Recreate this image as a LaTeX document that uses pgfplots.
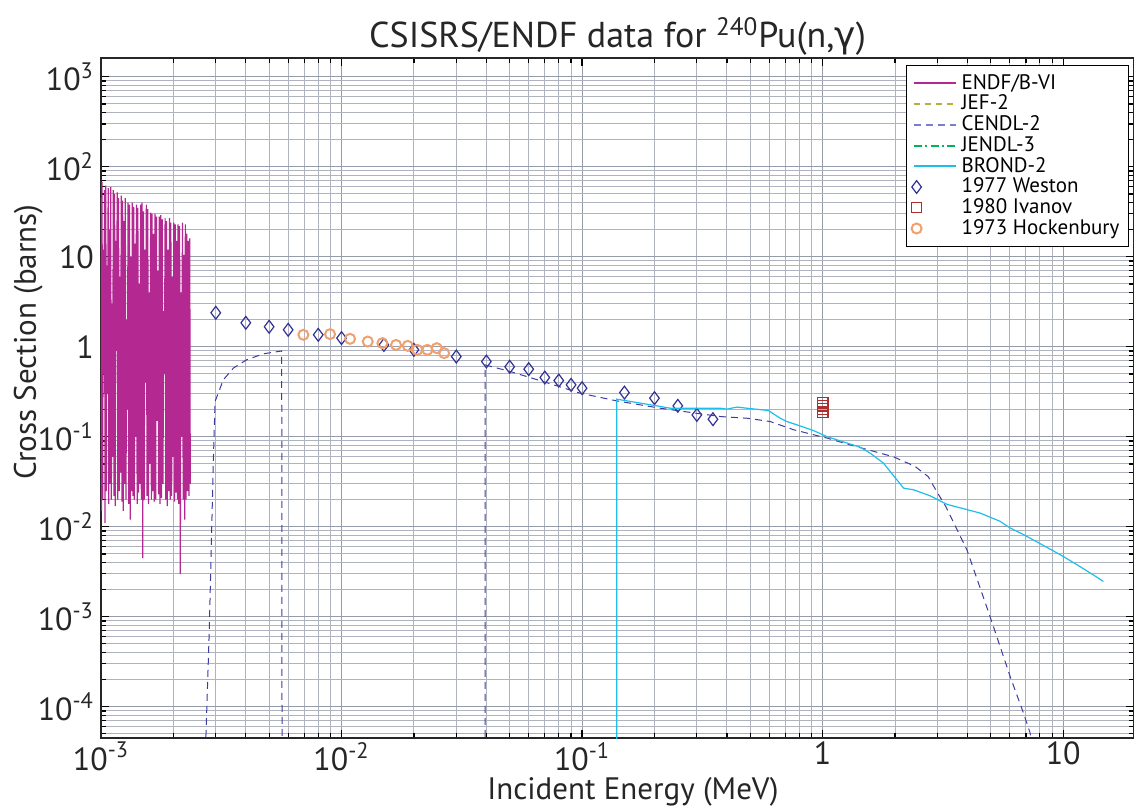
\documentclass[border=0pt]{standalone}
\usepackage{fontspec}
\setmainfont{PT Sans}
\newfontfamily\gfont{DejaVu Sans}
\usepackage{pgfplots}
\pgfplotsset{compat=1.18}
\pgfplotsset{longline/.style={legend image code/.code={\draw[##1] (0.25cm,0cm) -- (1cm,0cm);}}}
\definecolor{cMag}{RGB}{180,40,145}
\definecolor{cNavy}{RGB}{60,60,160}
\definecolor{cLav}{RGB}{125,125,205}
\definecolor{cOlive}{RGB}{185,175,60}
\definecolor{cGreen}{RGB}{0,180,90}
\definecolor{cCyan}{RGB}{30,190,235}
\definecolor{cDia}{RGB}{50,50,150}
\definecolor{cRed}{RGB}{175,45,45}
\definecolor{cOrange}{RGB}{240,160,110}
\definecolor{gridmaj}{RGB}{150,155,170}
\definecolor{gridmin}{RGB}{175,179,192}
\begin{document}
\begin{tikzpicture}
\begin{axis}[name=ax,
  xmode=log, ymode=log, scale only axis,
  width=516.5pt, height=340pt,
  xmin=1e-3, xmax=19.7, ymin=4.5e-5, ymax=1620,
  clip marker paths=true,
  xtick={1e-3,1e-2,1e-1,1,10},
  xticklabels={10\textsuperscript{-3},10\textsuperscript{-2},10\textsuperscript{-1},1,10},
  ytick={1e-4,1e-3,1e-2,1e-1,1,10,100,1000},
  yticklabels={10\textsuperscript{-4},10\textsuperscript{-3},10\textsuperscript{-2},10\textsuperscript{-1},1,10,10\textsuperscript{2},10\textsuperscript{3}},
  minor xtick={2e-3,3e-3,4e-3,5e-3,6e-3,7e-3,8e-3,9e-3,2e-2,3e-2,4e-2,5e-2,6e-2,7e-2,8e-2,9e-2,0.2,0.3,0.4,0.5,0.6,0.7,0.8,0.9,2,3,4,5,6,7,8,9},
  minor ytick={5e-5,6e-5,7e-5,8e-5,9e-5,2e-4,3e-4,4e-4,5e-4,6e-4,7e-4,8e-4,9e-4,2e-3,3e-3,4e-3,5e-3,6e-3,7e-3,8e-3,9e-3,2e-2,3e-2,4e-2,5e-2,6e-2,7e-2,8e-2,9e-2,0.2,0.3,0.4,0.5,0.6,0.7,0.8,0.9,2,3,4,5,6,7,8,9,20,30,40,50,60,70,80,90,200,300,400,500,600,700,800,900},
  grid=both,
  major grid style={color=gridmaj, line width=0.5pt},
  minor grid style={color=gridmin, line width=0.5pt},
  axis line style={line width=0.9pt, color=black!85},
  tick style={color=black, line width=0.6pt},
  major tick length=4pt, minor tick length=2.5pt,
  tick align=inside,
  ticklabel style={font=\fontsize{16}{16}\selectfont, color=black!85},
  xticklabel style={yshift=1.5pt},
  title={CSISRS/ENDF data for \textsuperscript{240}Pu(n,{\gfont γ})},
  title style={font=\fontsize{18}{18}\selectfont, color=black!85, at={(axis description cs:0.5,1)}, anchor=base, yshift=-1pt},
  xlabel={Incident Energy (MeV)},
  xlabel style={font=\fontsize{15.5}{15.5}\selectfont, color=black!85, at={(axis description cs:0.515,0)}, anchor=base, yshift=-30.5pt},
  ylabel={Cross Section (barns)},
  ylabel style={font=\fontsize{15.5}{15.5}\selectfont, color=black!85, at={(axis description cs:0,0.582)}, anchor=base, yshift=32.5pt},
  legend style={at={(rel axis cs:0.995,0.99)}, anchor=north east, draw=black, line width=0.5pt, fill=white,
    font=\fontsize{10.5}{10.5}\selectfont, row sep=-2.6pt, inner sep=2.5pt},
  legend cell align=left,
]
\addlegendimage{color=cMag, line width=1pt, longline}
\addlegendentry{ENDF/B-VI}
\addlegendimage{color=cOlive, line width=0.8pt, dash pattern=on 3pt off 2.5pt, longline}
\addlegendentry{JEF-2}
\addlegendimage{color=cLav, line width=1.1pt, dash pattern=on 3.5pt off 2.5pt, longline}
\addlegendentry{CENDL-2}
\addlegendimage{color=cGreen, line width=1pt, dash pattern=on 4pt off 1.6pt on 1.2pt off 1.6pt, longline}
\addlegendentry{JENDL-3}
\addlegendimage{color=cCyan, line width=0.9pt, longline}
\addlegendentry{BROND-2}
\addlegendimage{only marks, mark=diamond, mark size=3.2pt, mark options={color=cDia, line width=0.6pt, fill=none}}
\addlegendentry{1977 Weston}
\addlegendimage{only marks, mark=square, mark size=2.5pt, mark options={color=cRed, line width=0.6pt, fill=none}}
\addlegendentry{1980 Ivanov}
\addlegendimage{only marks, mark=o, mark size=2.5pt, mark options={color=cOrange, line width=1pt, fill=none}}
\addlegendentry{1973 Hockenbury}

% 1977 Weston (drawn first: partly hidden by the resonances)
\addplot[only marks, mark=diamond, mark size=3.2pt, mark options={color=cDia, line width=0.6pt, fill=none}, forget plot] coordinates {
(0.00104,5.55) (0.0015,3.48) (0.003,2.39) (0.004,1.85) (0.005,1.67) (0.006,1.545)
(0.008,1.36) (0.010,1.25) (0.015,1.05) (0.020,0.926) (0.030,0.78) (0.040,0.687)
(0.050,0.60) (0.060,0.565) (0.070,0.456) (0.080,0.422) (0.090,0.378) (0.100,0.347)
(0.150,0.31) (0.200,0.269) (0.250,0.221) (0.300,0.175) (0.350,0.157)
};

% ENDF/B-VI resolved resonances
\addplot[color=cMag, line width=0.6pt, forget plot] coordinates {
(0.001000,0.02) (0.001003,45) (0.001006,0.015) (0.001010,68) (0.001016,0.02) (0.001022,12)
(0.001028,0.5) (0.001034,55) (0.001040,0.011) (0.001047,62) (0.001053,0.025) (0.001059,8)
(0.001065,0.3) (0.001071,58) (0.001078,0.018) (0.001084,20) (0.001090,0.03) (0.001097,60)
(0.001104,0.02) (0.001111,3) (0.001118,0.06) (0.001125,55) (0.001132,0.022) (0.001139,50)
(0.001146,0.017) (0.001153,15) (0.001161,0.9) (0.001168,52) (0.001175,0.02) (0.001183,45)
(0.001190,0.025) (0.001198,6) (0.001206,0.04) (0.001214,48) (0.001222,0.019) (0.001230,42)
(0.001238,0.015) (0.001246,25) (0.001254,0.03) (0.001262,45) (0.001270,0.02) (0.001279,2)
(0.001287,0.2) (0.001296,40) (0.001304,0.018) (0.001313,38) (0.001322,0.012) (0.001331,10)
(0.001340,0.025) (0.001349,40) (0.001358,0.022) (0.001367,36) (0.001376,0.02) (0.001386,14)
(0.001395,0.1) (0.001404,38) (0.001414,0.018) (0.001423,35) (0.001433,0.024) (0.001443,5)
(0.001452,0.03) (0.001462,38) (0.001472,0.02) (0.001482,40) (0.001492,0.0045) (0.001502,32)
(0.001512,0.02) (0.001523,12) (0.001533,0.4) (0.001544,38) (0.001554,0.022) (0.001565,34)
(0.001576,0.018) (0.001587,4) (0.001598,0.05) (0.001609,31) (0.001620,0.02) (0.001631,30)
(0.001642,0.025) (0.001654,18) (0.001665,0.019) (0.001677,30) (0.001688,0.02) (0.001700,28)
(0.001712,0.15) (0.001724,7) (0.001736,0.023) (0.001748,28) (0.001760,0.018) (0.001772,29)
(0.001785,0.021) (0.001797,26) (0.001810,0.03) (0.001822,2.5) (0.001835,0.5) (0.001848,27)
(0.001860,0.02) (0.001873,25) (0.001886,0.017) (0.001899,12) (0.001912,0.025) (0.001926,27)
(0.001939,0.02) (0.001952,24) (0.001966,0.022) (0.001980,6) (0.001993,0.06) (0.002007,24)
(0.002021,0.019) (0.002035,23) (0.002049,0.024) (0.002064,15) (0.002078,0.02) (0.002092,23)
(0.002107,0.018) (0.002122,22) (0.002136,0.003) (0.002151,4) (0.002166,0.1) (0.002181,24)
(0.002197,0.02) (0.002212,10.5) (0.002228,0.012) (0.002243,23) (0.002259,0.02) (0.002275,18)
(0.002291,0.025) (0.002307,15) (0.002323,0.022) (0.002339,16) (0.002350,0.03)
};

% dashed evaluation (low energy piece)
\addplot[color=cNavy, line width=0.5pt, dash pattern=on 3.5pt off 2.5pt, forget plot] coordinates {
(0.00271,1e-5) (0.00273,4.6e-5) (0.00282,7.2e-4) (0.00293,0.0514) (0.00298,0.247)
(0.003225,0.43) (0.00355,0.58) (0.00403,0.717) (0.00473,0.836) (0.00564,0.90) (0.00566,1e-5)
};
% dashed evaluation (high energy piece)
\addplot[color=cNavy, line width=0.5pt, dash pattern=on 3.5pt off 2.5pt, forget plot] coordinates {
(0.0395,1e-5) (0.0395,0.63) (0.0502,0.532) (0.069,0.411) (0.098,0.306) (0.139,0.251)
(0.211,0.208) (0.375,0.168) (0.484,0.161) (0.605,0.148) (0.756,0.120) (1.04,0.097)
(1.30,0.0815) (1.73,0.066) (1.97,0.060) (2.42,0.047) (2.75,0.036) (2.98,0.0247)
(3.25,0.0168) (3.98,0.00555) (4.97,1.0e-3) (6.02,2.17e-4) (6.84,8.5e-5) (7.29,5.1e-5) (7.6,2e-5)
};

% BROND-2
\addplot[color=cCyan, line width=0.6pt, forget plot] coordinates {
(0.1394,1e-5) (0.1394,0.262) (0.2045,0.221) (0.232,0.208) (0.30,0.208) (0.375,0.208)
(0.40,0.203) (0.44,0.214) (0.484,0.208) (0.595,0.196) (0.666,0.161) (0.71,0.148)
(0.781,0.136) (0.915,0.1175) (1.041,0.1007) (1.18,0.0903) (1.43,0.0768) (1.575,0.0659)
(1.79,0.051) (2.17,0.0269) (2.386,0.0258) (2.80,0.0221) (3.28,0.0178) (4.52,0.0142)
(5.47,0.0115) (6.02,0.0097) (6.84,0.0082) (8.02,0.0065) (9.72,0.0049) (11.4,0.0038)
(13.4,0.0029) (14.7,0.00247)
};

% 1980 Ivanov
\addplot[only marks, mark=square, mark size=2.7pt, mark options={color=cRed, line width=0.6pt, fill=none}, forget plot] coordinates {
(1.0,0.24) (1.0,0.222) (1.0,0.205) (1.0,0.19)
};
% 1973 Hockenbury
\addplot[only marks, mark=o, mark size=2.5pt, mark options={color=cOrange, line width=1pt, fill=none}, forget plot] coordinates {
(0.00694,1.36) (0.00896,1.384) (0.01085,1.227) (0.01285,1.145) (0.01478,1.099) (0.01685,1.05)
(0.01885,1.026) (0.02066,0.926) (0.02274,0.926) (0.02488,0.967) (0.0267,0.851)
};
\end{axis}
\pgfresetboundingbox
\path[use as bounding box] ([xshift=-50.5pt,yshift=-35pt]ax.south west) rectangle ([yshift=29pt]ax.north east);
\end{tikzpicture}
\end{document}
